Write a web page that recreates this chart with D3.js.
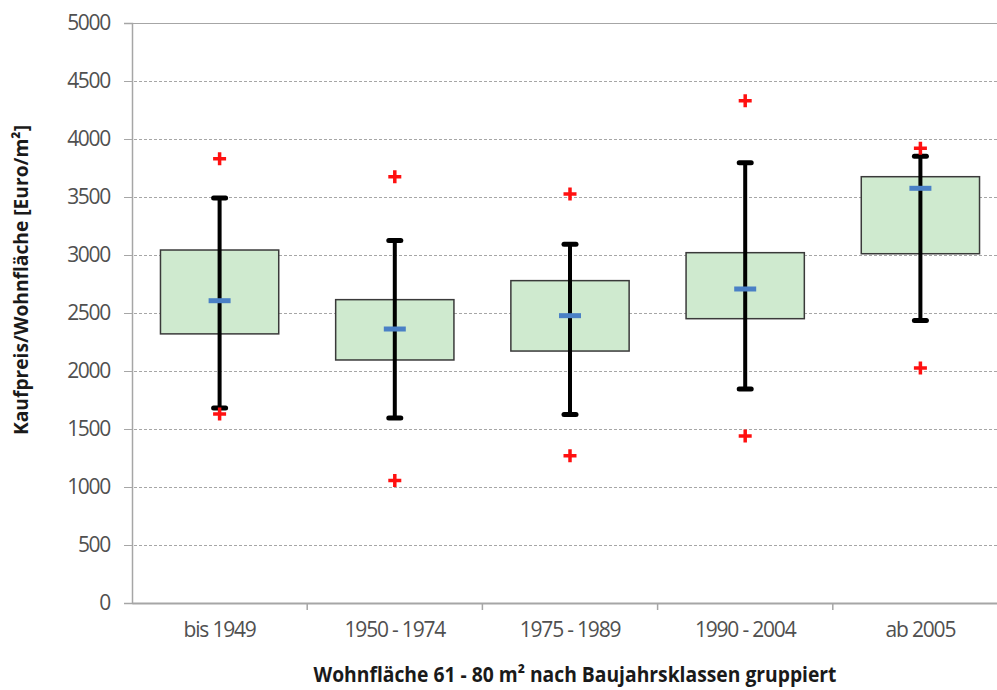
<!DOCTYPE html>
<html lang="de">
<head>
<meta charset="utf-8"/>
<title>Kaufpreis/Wohnfläche nach Baujahrsklassen</title>
<style>
  html, body { margin: 0; padding: 0; background: #fff; }
  svg { display: block; font-family: "Open Sans", "Noto Sans", sans-serif; }
</style>
</head>
<body>
<div id="chart"></div>
<script src="https://d3js.org/d3.v7.min.js"></script>
<script>
  // Baujahrsklassen
  const categories = ["bis 1949", "1950 - 1974", "1975 - 1989", "1990 - 2004", "ab 2005"];
  const whiskerLow = [1680, 1595, 1625, 1845, 2435];
  const boxLow = [2320, 2095, 2172, 2451, 3011];
  const medians = [2606, 2362, 2477, 2707, 3575];
  const boxHigh = [3043, 2615, 2779, 3020, 3675];
  const whiskerHigh = [3491, 3126, 3092, 3796, 3851];
  const outlierHigh = [3830, 3675, 3526, 4330, 3920];
  const outlierLow = [1629, 1055, 1270, 1440, 2026];
  const yTicks = [0, 500, 1000, 1500, 2000, 2500, 3000, 3500, 4000, 4500, 5000];

  const width = 997, height = 690;
  const margin = { top: 23, right: -11, bottom: 87, left: 132 };

  const svg = d3.select("#chart").append("svg")
      .attr("width", width)
      .attr("height", height);

  const x = d3.scaleBand()
      .domain(categories)
      .range([margin.left, width - margin.right])
      .paddingInner(0)
      .paddingOuter(0);

  const y = d3.scaleLinear()
      .domain([0, 5000])
      .range([height - margin.bottom, margin.top]);

  // gridlines
  svg.append("g")
    .selectAll("line")
    .data(yTicks.filter(d => d > 0 && d < 5000))
    .join("line")
      .attr("x1", margin.left - 8)
      .attr("x2", width)
      .attr("y1", d => y(d) + 0.5)
      .attr("y2", d => y(d) + 0.5)
      .attr("stroke", "#a6a6a6")
      .attr("stroke-width", 1)
      .attr("stroke-dasharray", "3,2");

  // top border
  svg.append("line")
      .attr("x1", margin.left - 8)
      .attr("x2", width)
      .attr("y1", y(5000) + 0.5)
      .attr("y2", y(5000) + 0.5)
      .attr("stroke", "#a6a6a6");

  // y axis
  const yAxis = svg.append("g")
      .attr("transform", `translate(${margin.left},0)`)
      .call(d3.axisLeft(y).tickValues(yTicks).tickSize(8).tickPadding(14).tickFormat(d3.format("d")));
  yAxis.select(".domain").attr("stroke", "#a6a6a6").attr("stroke-width", 1.5);
  yAxis.selectAll(".tick line").attr("stroke", "#a6a6a6");
  yAxis.selectAll("text")
      .attr("fill", "#505050")
      .attr("font-size", 21)
      .attr("letter-spacing", -1.3)
      .attr("font-family", "Open Sans, sans-serif");

  // x axis
  const xAxis = svg.append("g")
      .attr("transform", `translate(0,${height - margin.bottom})`)
      .call(d3.axisBottom(x).tickSize(0).tickPadding(19));
  xAxis.select(".domain").attr("stroke", "#a6a6a6").attr("stroke-width", 2);
  xAxis.selectAll("text")
      .attr("fill", "#505050")
      .attr("font-size", 21)
      .attr("letter-spacing", -1.2)
      .attr("font-family", "Open Sans, sans-serif");

  // category boundary ticks
  svg.append("g")
    .selectAll("line")
    .data(categories)
    .join("line")
      .attr("x1", d => x(d) + x.bandwidth())
      .attr("x2", d => x(d) + x.bandwidth())
      .attr("y1", y(0))
      .attr("y2", y(0) + 7)
      .attr("stroke", "#a6a6a6")
      .attr("stroke-width", 1.5);

  const boxW = x.bandwidth() * 0.675;
  const cx = d => x(d) + x.bandwidth() / 2;

  // boxes
  svg.append("g")
    .selectAll("rect")
    .data(categories)
    .join("rect")
      .attr("x", d => cx(d) - boxW / 2)
      .attr("width", boxW)
      .attr("y", (d, i) => y(boxHigh[i]))
      .attr("height", (d, i) => y(boxLow[i]) - y(boxHigh[i]))
      .attr("fill", "#cfeacf")
      .attr("stroke", "#3a3a3a")
      .attr("stroke-width", 1.5);

  // whiskers
  svg.append("g")
    .selectAll("line")
    .data(categories)
    .join("line")
      .attr("x1", cx)
      .attr("x2", cx)
      .attr("y1", (d, i) => y(whiskerLow[i]))
      .attr("y2", (d, i) => y(whiskerHigh[i]))
      .attr("stroke", "#000")
      .attr("stroke-width", 4);

  const caps = categories.flatMap((d, i) => [
    { c: d, v: whiskerLow[i] },
    { c: d, v: whiskerHigh[i] }
  ]);
  svg.append("g")
    .selectAll("line")
    .data(caps)
    .join("line")
      .attr("x1", d => cx(d.c) - 6)
      .attr("x2", d => cx(d.c) + 6)
      .attr("y1", d => y(d.v))
      .attr("y2", d => y(d.v))
      .attr("stroke", "#000")
      .attr("stroke-width", 5)
      .attr("stroke-linecap", "round");

  // medians
  svg.append("g")
    .selectAll("line")
    .data(categories)
    .join("line")
      .attr("x1", d => cx(d) - 11)
      .attr("x2", d => cx(d) + 11)
      .attr("y1", (d, i) => y(medians[i]))
      .attr("y2", (d, i) => y(medians[i]))
      .attr("stroke", "#4a80c6")
      .attr("stroke-width", 5);

  // outliers (red plus)
  const outliers = categories.flatMap((d, i) => [
    { c: d, v: outlierHigh[i] },
    { c: d, v: outlierLow[i] }
  ]);
  svg.append("g")
    .selectAll("path")
    .data(outliers)
    .join("path")
      .attr("transform", d => `translate(${cx(d.c)},${y(d.v)})`)
      .attr("d", "M-6.5,0H6.5M0,-6.5V6.5")
      .attr("stroke", "#ff1010")
      .attr("stroke-width", 3.5);

  // axis titles
  svg.append("text")
      .attr("transform", `translate(28,280) rotate(-90)`)
      .attr("text-anchor", "middle")
      .attr("font-weight", "bold")
      .attr("font-size", 20)
      .attr("fill", "#1a1a1a")
      .attr("textLength", 310)
      .attr("lengthAdjust", "spacingAndGlyphs")
      .text("Kaufpreis/Wohnfläche [Euro/m²]");

  svg.append("text")
      .attr("x", 575)
      .attr("y", 682)
      .attr("text-anchor", "middle")
      .attr("font-weight", "bold")
      .attr("font-size", 21)
      .attr("fill", "#1a1a1a")
      .attr("textLength", 523)
      .attr("lengthAdjust", "spacingAndGlyphs")
      .text("Wohnfläche 61 - 80 m² nach Baujahrsklassen gruppiert");
</script>
</body>
</html>
